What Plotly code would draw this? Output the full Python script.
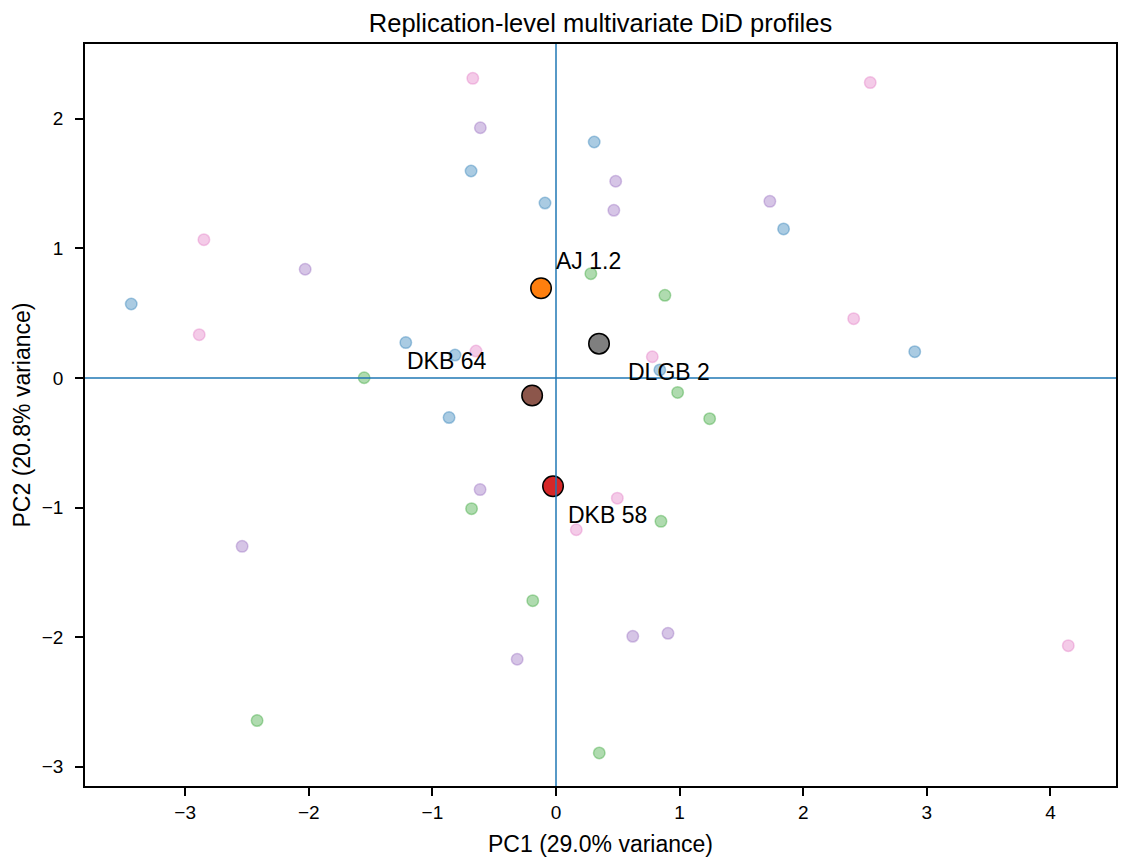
import plotly.graph_objects as go

# replication-level PCA scores, one list per group
blue_pc1 = [-3.436, -0.687, -0.089, 0.309, 1.841, -1.215, -0.817, -0.865, 2.902, 0.840]
blue_pc2 = [0.571, 1.597, 1.350, 1.821, 1.150, 0.273, 0.177, -0.305, 0.203, 0.062]

green_pc1 = [-1.552, 0.282, 0.881, 0.984, 1.243, -0.683, 0.849, -0.188, -2.418, 0.350]
green_pc2 = [0.002, 0.805, 0.638, -0.111, -0.314, -1.008, -1.106, -1.718, -2.643, -2.893]

purple_pc1 = [-0.612, 0.483, 0.468, 1.730, -2.029, -0.614, -2.539, 0.621, 0.906, -0.314]
purple_pc2 = [1.931, 1.518, 1.294, 1.363, 0.839, -0.861, -1.299, -1.993, -1.970, -2.170]

pink_pc1 = [-0.673, 2.542, -2.848, -2.886, -0.647, 2.408, 0.779, 0.496, 0.164, 4.144]
pink_pc2 = [2.312, 2.279, 1.067, 0.334, 0.208, 0.458, 0.164, -0.927, -1.171, -2.065]

# original specifications
orig_labels = ["AJ 1.2", "DKB 58", "DKB 64", "DLGB 2"]
orig_pc1 = [-0.121, -0.024, -0.193, 0.348]
orig_pc2 = [0.692, -0.835, -0.135, 0.265]

x_ticks = [-3, -2, -1, 0, 1, 2, 3, 4]
y_ticks = [-3, -2, -1, 0, 1, 2]

FONT = "Liberation Sans, Arial, sans-serif"


def rgba(hex_color, a):
    h = hex_color.lstrip("#")
    r, g, b = int(h[0:2], 16), int(h[2:4], 16), int(h[4:6], 16)
    return f"rgba({r},{g},{b},{a})"


fig = go.Figure()

groups = [
    (blue_pc1, blue_pc2, "#1f77b4"),
    (green_pc1, green_pc2, "#2ca02c"),
    (purple_pc1, purple_pc2, "#9467bd"),
    (pink_pc1, pink_pc2, "#e377c2"),
]
for xs, ys, col in groups:
    fig.add_trace(
        go.Scatter(
            x=xs,
            y=ys,
            mode="markers",
            marker=dict(
                size=11.5,
                color=rgba(col, 0.38),
                line=dict(color=rgba(col, 0.38), width=1.5),
            ),
            showlegend=False,
        )
    )

orig_colors = ["#ff7f0e", "#d62728", "#8c564b", "#7f7f7f"]
fig.add_trace(
    go.Scatter(
        x=orig_pc1,
        y=orig_pc2,
        mode="markers",
        marker=dict(size=20.5, color=orig_colors, line=dict(color="black", width=1.5)),
        showlegend=False,
    )
)

# label placement, pixel offsets from each point
label_pos = {
    "AJ 1.2": dict(xanchor="left", xshift=13, yshift=27),
    "DKB 58": dict(xanchor="left", xshift=13, yshift=-29),
    "DKB 64": dict(xanchor="right", xshift=-44, yshift=34),
    "DLGB 2": dict(xanchor="left", xshift=27, yshift=-28),
}
for lab, x, y in zip(orig_labels, orig_pc1, orig_pc2):
    fig.add_annotation(
        x=x,
        y=y,
        text=lab,
        showarrow=False,
        yanchor="middle",
        font=dict(family=FONT, size=23, color="black"),
        **label_pos[lab],
    )

# zero reference lines
fig.add_shape(type="line", xref="x", yref="paper", x0=0, x1=0, y0=0, y1=1,
              line=dict(color="#1f77b4", width=1.5), layer="above")
fig.add_shape(type="line", xref="paper", yref="y", x0=0, x1=1, y0=0, y1=0,
              line=dict(color="#1f77b4", width=1.5), layer="above")

axis_style = dict(
    showgrid=False,
    zeroline=False,
    showline=True,
    linecolor="black",
    linewidth=1.5,
    mirror=True,
    ticks="outside",
    ticklen=8,
    tickwidth=1.5,
    tickcolor="black",
    tickfont=dict(family=FONT, size=19, color="black"),
    automargin=False,
)

# the page body adds an 8px margin, so the figure margins are shifted to match
fig.update_layout(
    width=1126,
    height=865,
    margin=dict(l=77, r=18, t=36, b=87),
    paper_bgcolor="white",
    plot_bgcolor="white",
    font=dict(family=FONT, color="black"),
    title=dict(
        text="Replication-level multivariate DiD profiles",
        x=0.5,
        xref="paper",
        y=1 - 15 / 865,
        yref="container",
        yanchor="middle",
        font=dict(family=FONT, size=25.5, color="black"),
    ),
    xaxis=dict(
        range=[-3.81, 4.53],
        tickvals=x_ticks,
        title=dict(text="PC1 (29.0% variance)", font=dict(size=23), standoff=14),
        **axis_style,
    ),
    yaxis=dict(
        range=[-3.148, 2.577],
        tickvals=y_ticks,
        ticklabelstandoff=8,
        title=dict(text="PC2 (20.8% variance)", font=dict(size=23), standoff=5),
        **axis_style,
    ),
)

fig.write_html("out.html")
